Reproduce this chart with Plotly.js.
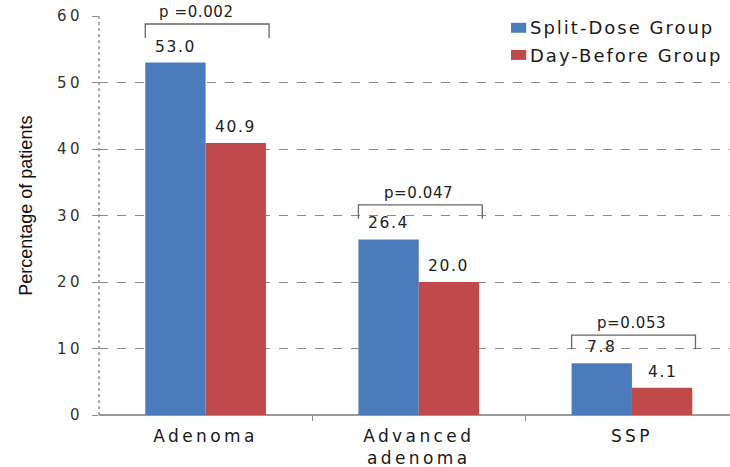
<!DOCTYPE html>
<html>
<head>
<meta charset="utf-8">
<script src="https://cdn.plot.ly/plotly-3.0.1.min.js"></script>
<style>html,body{margin:0;padding:0;background:#fff;}#chart{width:730px;height:467px;}</style>
</head>
<body>
<div id="chart"></div>
<script>
const categories = ["Adenoma", "Advanced<br>adenoma", "SSP"];
const splitDose = [53.0, 26.4, 7.8];
const dayBefore = [40.9, 20.0, 4.1];
const pLabels = ["p =0.002", "p=0.047", "p=0.053"];
const seriesNames = ["Split-Dose Group", "Day-Before Group"];
const yTicks = [0, 10, 20, 30, 40, 50, 60];
const yTitle = "Percentage of patients";

const BLUE = "#4a7bbd", RED = "#c0494a";
const halfBar = 0.283;
const font = "DejaVu Sans, Verdana, sans-serif";
const sp = (t, px) => t.split("<br>").map(s => `<span style="letter-spacing:${px}px">${s}</span>`).join("<br>");

const traces = [
  {type: "bar", name: seriesNames[0], x: [0,1,2], y: splitDose, marker: {color: BLUE}, showlegend: false},
  {type: "bar", name: seriesNames[1], x: [0,1,2], y: dayBefore, marker: {color: RED}, showlegend: false}
];

const annotations = [];
const shapes = [];
// value labels
[splitDose, dayBefore].forEach((arr, s) => {
  arr.forEach((v, i) => {
    const xc = i + (s === 0 ? -halfBar/2 : halfBar/2);
    annotations.push({x: xc, y: v, xref: "x", yref: "y", text: sp(v.toFixed(1), 1.6), showarrow: false,
      yanchor: "bottom", yshift: 5, font: {family: font, size: 15.5, color: "#222"}});
  });
});
// p-value brackets (height above the taller bar)
const bracketGap = [5.8, 5.2, 4.2];
categories.forEach((c, i) => {
  const yTop = Math.max(splitDose[i], dayBefore[i]) + bracketGap[i];
  const yEnd = yTop - 2.1;
  const x0 = i - halfBar, x1 = i + halfBar + 0.015;
  shapes.push({type: "path", xref: "x", yref: "y",
    path: `M ${x0} ${yEnd} L ${x0} ${yTop} L ${x1} ${yTop} L ${x1} ${yEnd}`,
    line: {color: "#666", width: 1.3}});
  annotations.push({x: i, y: yTop, xref: "x", yref: "y", text: sp(pLabels[i], 0.6), showarrow: false,
    yanchor: "bottom", yshift: 1, xshift: i === 0 ? -9 : 0, font: {family: font, size: 15, color: "#222"}});
});
// legend (drawn manually)
seriesNames.forEach((n, s) => {
  const yp = s === 0 ? 0.970 : 0.902;
  shapes.push({type: "rect", xref: "paper", yref: "paper", x0: 0.653, x1: 0.677, y0: yp - 0.012, y1: yp + 0.013,
    fillcolor: s === 0 ? BLUE : RED, line: {width: 0}, layer: "above"});
  annotations.push({x: 0.680, y: yp, xref: "paper", yref: "paper", text: sp(n, 2.0), showarrow: false,
    xanchor: "left", yanchor: "middle", font: {family: font, size: 18, color: "#1a1a1a"}});
});
// y axis title
annotations.push({x: -0.116, y: 0.524, xref: "paper", yref: "paper", text: yTitle, textangle: -90,
  showarrow: false, xanchor: "center", yanchor: "middle",
  font: {family: "Liberation Sans, Arial, sans-serif", size: 18, color: "#111"}});
// dotted y axis line
shapes.push({type: "line", xref: "paper", yref: "y", x0: 0, x1: 0, y0: 0, y1: 60,
  line: {color: "#777", width: 1.2, dash: "dot"}});

const layout = {
  width: 730, height: 467,
  margin: {l: 99, r: 0, t: 16, b: 52},
  paper_bgcolor: "#fff", plot_bgcolor: "#fff",
  barmode: "group", bargap: 0.434, bargroupgap: 0,
  xaxis: {range: [-0.5, 2.46], tickvals: [0,1,2], ticktext: categories.map(c => sp(c, 3.4)), showgrid: false,
    zeroline: false, showline: false, ticks: "", ticklabelstandoff: 9,
    tickfont: {family: font, size: 17, color: "#1a1a1a"},
    minor: {tickvals: [0.5, 1.5], ticks: "outside", ticklen: 5, tickcolor: "#888", showgrid: false}},
  yaxis: {range: [0, 60], tickvals: yTicks, ticktext: yTicks.map(v => sp(String(v), 3.5)),
    showgrid: true, gridcolor: "#8a8a8a", griddash: "dash",
    gridwidth: 1, zeroline: true, zerolinecolor: "#999", zerolinewidth: 1.5, showline: false,
    ticks: "outside", ticklen: 6, tickcolor: "#888", ticklabelstandoff: 6,
    tickfont: {family: font, size: 15, color: "#333"}},
  shapes: shapes, annotations: annotations
};
Plotly.newPlot("chart", traces, layout, {displayModeBar: false, staticPlot: true});
</script>
</body>
</html>
